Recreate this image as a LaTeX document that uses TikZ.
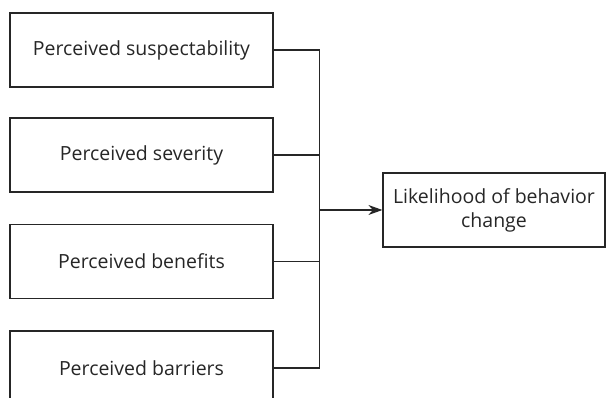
\documentclass[tikz,border=0pt]{standalone}
\usepackage{fontspec}
\setmainfont{Open Sans}
\usetikzlibrary{arrows.meta}
\begin{document}
\begin{tikzpicture}[x=1pt,y=-1pt,
  factor/.style={draw=black!85, line width=1.2pt, minimum width=263pt, minimum height=74pt, inner sep=0pt, font=\fontsize{19.5}{24}\selectfont, text=black!85},
  outcome/.style={draw=black!85, line width=1.2pt, minimum width=222pt, minimum height=74pt, inner sep=0pt, align=center, font=\fontsize{19.5}{24}\selectfont, text=black!85},
  link/.style={draw=black!85, line width=1.2pt}]
\clip (0,0) rectangle (606,398);
\node[factor] (a) at (141.5,50) {Perceived suspectability};
\node[factor] (b) at (141.5,155) {Perceived severity};
\node[factor] (c) at (141.5,261.5) {Perceived benefits};
\node[factor] (d) at (141.5,368) {Perceived barriers};
\node[outcome] (e) at (494,210) {Likelihood of behavior\\change};
\coordinate (j) at (319.5,210);
\draw[link] (a.east) -| (j);
\draw[link] (b.east) -| (j);
\draw[link] (c.east) -| (j);
\draw[link] (d.east) -| (j);
\draw[link,-{Stealth[length=14pt,width=10pt]}] (j) -- (e.west);
\end{tikzpicture}
\end{document}
